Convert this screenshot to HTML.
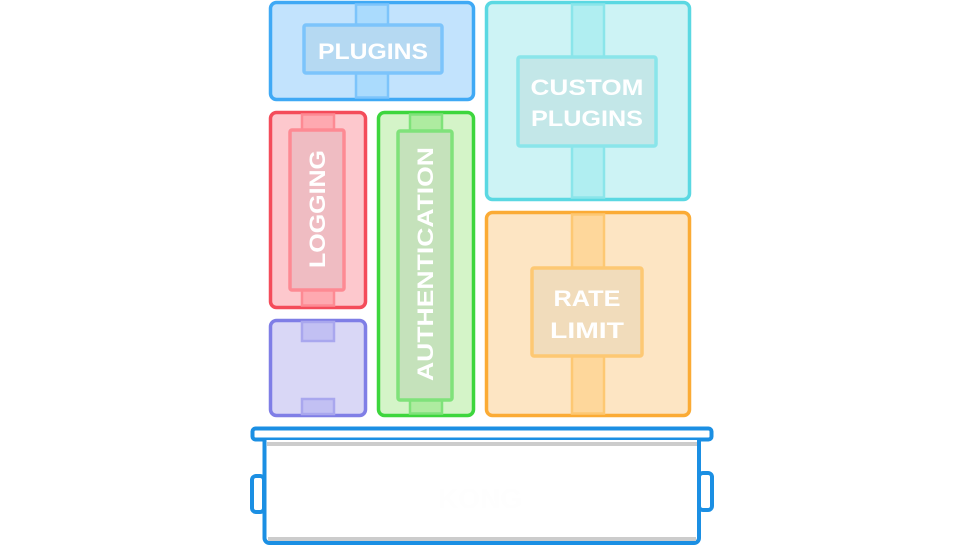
<!DOCTYPE html>
<html><head><meta charset="utf-8"><style>
html,body{margin:0;padding:0;background:#fff;width:960px;height:546px;overflow:hidden}
svg{display:block}
text{font-family:"Liberation Sans",sans-serif;font-weight:bold;fill:#fff;font-size:22px}
</style></head><body>
<svg width="960" height="546" viewBox="0 0 960 546">
<!-- PLUGINS -->
<rect x="270.5" y="2.5" width="203" height="97" rx="6" fill="#c2e3fd" stroke="#3fa9f5" stroke-width="3.5"/>
<rect x="356" y="4.5" width="32" height="93" fill="#aadbfd" stroke="#7cc4fb" stroke-width="2.5"/>
<rect x="304" y="25" width="138" height="48" rx="2" fill="#b5d9f2" stroke="#7cc4fb" stroke-width="3.5"/>
<text x="373" y="59" text-anchor="middle" textLength="110" lengthAdjust="spacingAndGlyphs">PLUGINS</text>
<!-- CUSTOM PLUGINS -->
<rect x="486.5" y="2.5" width="203" height="197" rx="6" fill="#cdf3f5" stroke="#5ad8e2" stroke-width="3.5"/>
<rect x="572" y="4.5" width="32" height="193" fill="#b0eef1" stroke="#8ae5ea" stroke-width="2.5"/>
<rect x="518" y="57" width="138" height="89" rx="2" fill="#c3e7e8" stroke="#8ae5ea" stroke-width="3.5"/>
<text x="587" y="95" text-anchor="middle" textLength="113" lengthAdjust="spacingAndGlyphs">CUSTOM</text>
<text x="587" y="126" text-anchor="middle" textLength="112" lengthAdjust="spacingAndGlyphs">PLUGINS</text>
<!-- LOGGING -->
<rect x="270.5" y="112.5" width="95" height="195" rx="6" fill="#fdc8cd" stroke="#f44c5a" stroke-width="3.5"/>
<rect x="302" y="114.5" width="32" height="191" fill="#fea9b0" stroke="#fd8a93" stroke-width="2.5"/>
<rect x="290" y="130" width="54" height="160" rx="2" fill="#efbcc2" stroke="#fd8a93" stroke-width="3.5"/>
<text transform="translate(325,268) rotate(-90)" textLength="118" lengthAdjust="spacingAndGlyphs">LOGGING</text>
<!-- AUTHENTICATION -->
<rect x="378.5" y="112.5" width="95" height="303" rx="6" fill="#d4f4c8" stroke="#3dd63d" stroke-width="3.5"/>
<rect x="410" y="114.5" width="32" height="299" fill="#aeeca0" stroke="#7fe27a" stroke-width="2.5"/>
<rect x="398" y="131" width="54" height="269" rx="2" fill="#c5e2bb" stroke="#7fe27a" stroke-width="3.5"/>
<text transform="translate(433,381) rotate(-90)" textLength="234" lengthAdjust="spacingAndGlyphs">AUTHENTICATION</text>
<!-- PURPLE -->
<rect x="270.5" y="320.5" width="95" height="95" rx="6" fill="#d9d7f6" stroke="#7f7ee6" stroke-width="3.5"/>
<rect x="302" y="322" width="32" height="19" fill="#c2c0f3" stroke="#a9a7ee" stroke-width="2.5"/>
<rect x="302" y="399" width="32" height="15" fill="#c2c0f3" stroke="#a9a7ee" stroke-width="2.5"/>
<!-- RATE LIMIT -->
<rect x="486.5" y="212.5" width="203" height="203" rx="6" fill="#fde5c3" stroke="#fbab35" stroke-width="3.5"/>
<rect x="572" y="214.5" width="32" height="199" fill="#fed79b" stroke="#fdc873" stroke-width="2.5"/>
<rect x="532" y="268" width="110" height="88" rx="2" fill="#f1dcbb" stroke="#fdc873" stroke-width="3.5"/>
<text x="587" y="306" text-anchor="middle" textLength="67" lengthAdjust="spacingAndGlyphs">RATE</text>
<text x="587" y="338" text-anchor="middle" textLength="74" lengthAdjust="spacingAndGlyphs">LIMIT</text>
<!-- BASE -->
<rect x="252.5" y="428.5" width="459" height="11" rx="3" fill="#fff" stroke="#1b8fe3" stroke-width="4"/>
<rect x="252" y="476" width="12" height="36" rx="4" fill="#fff" stroke="#1b8fe3" stroke-width="4"/>
<rect x="699" y="473" width="13" height="37" rx="4" fill="#fff" stroke="#1b8fe3" stroke-width="4"/>
<path d="M264.5 440 V538 a5 5 0 0 0 5 5 H694 a5 5 0 0 0 5 -5 V440" fill="#fff" stroke="#1b8fe3" stroke-width="4"/>
<rect x="267" y="442" width="430" height="4" fill="#cccccc"/>
<rect x="268" y="537" width="428" height="4" fill="#cccccc"/>
<text x="480" y="508" text-anchor="middle" style="fill:#fefefe;font-size:28px">KONG</text>
</svg>
</body></html>
